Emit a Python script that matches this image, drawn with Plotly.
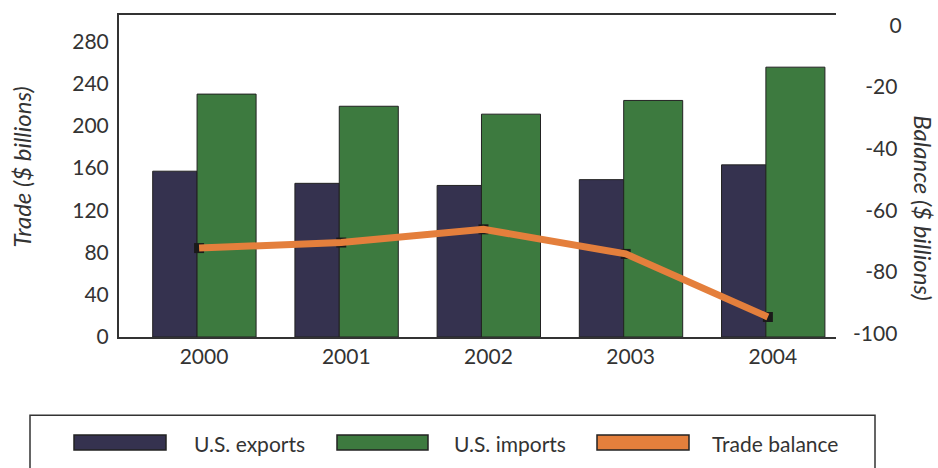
import plotly.graph_objects as go

# ---- data ----
years = ["2000", "2001", "2002", "2003", "2004"]
exports = [157, 145.5, 143.5, 149, 163]
imports = [230, 218.5, 211, 224, 255.5]
balance = [-72.3, -70.5, -66.2, -74.2, -94.7]
left_ticks = [0, 40, 80, 120, 160, 200, 240, 280]
right_ticks = [0, -20, -40, -60, -80, -100]

# ---- style ----
FONT = "Lato"
TXT = "#333333"
C_EXP = "#35324f"
C_IMP = "#3d7a3f"
C_BAL = "#e47f3c"

W, H = 938, 468
PL, PR, PT, PB = 119, 836, 12, 337  # plot area in pixels


def px_x(x):
    return (x - PL) / (PR - PL)


def px_y(y):
    return (PB - y) / (PB - PT)


def right_label(v):
    # hyphen-minus labels, padded with figure spaces so they line up on the right
    s = str(v)
    return "\u2007" * (4 - len(s)) + s


xi = list(range(len(years)))

fig = go.Figure()
fig.add_trace(go.Bar(
    x=xi, y=exports, name="U.S. exports", marker_color=C_EXP,
    marker_line=dict(color="#222222", width=1),
    width=0.312, offset=-0.361, showlegend=False,
))
fig.add_trace(go.Bar(
    x=xi, y=imports, name="U.S. imports", marker_color=C_IMP,
    marker_line=dict(color="#222222", width=1),
    width=0.415, offset=-0.049, showlegend=False,
))
bx = [i - 0.035 for i in xi]
fig.add_trace(go.Scatter(
    x=bx, y=balance, yaxis="y2", mode="markers",
    marker=dict(symbol="square", size=10, color="#1a1a1a"),
    showlegend=False, hoverinfo="skip",
))
fig.add_trace(go.Scatter(
    x=bx, y=balance, yaxis="y2", mode="lines", name="Trade balance",
    line=dict(color=C_BAL, width=7), showlegend=False,
))

fig.update_layout(
    width=W, height=H,
    margin=dict(l=PL, r=W - PR, t=PT, b=H - PB),
    paper_bgcolor="white", plot_bgcolor="white",
    font=dict(family=FONT, size=22, color=TXT),
    barmode="overlay",
    xaxis=dict(
        range=[-0.598, 4.444], tickvals=xi, ticktext=years,
        showline=True, linecolor="#333333", linewidth=2, mirror=True,
        showgrid=False, zeroline=False, ticks="",
        tickfont=dict(size=21),
    ),
    yaxis=dict(
        range=[0, 304.9], tickvals=left_ticks,
        showgrid=False, zeroline=False, showline=True,
        linecolor="#333333", linewidth=2, ticks="", ticklabelstandoff=4,
        tickfont=dict(size=21),
    ),
    yaxis2=dict(
        range=[-101.2, 3.44], tickvals=right_ticks,
        ticktext=[right_label(v) for v in right_ticks],
        overlaying="y", side="right",
        showgrid=False, zeroline=False, showline=False, ticks="",
        tickfont=dict(size=21), ticklabelstandoff=16,
    ),
)

ann = []
ann.append(dict(text="Trade ($ billions)", x=px_x(22), y=px_y(166), xref="paper", yref="paper",
                xanchor="center", yanchor="middle",
                textangle=-90, showarrow=False, font=dict(size=24, style="italic", color=TXT)))
ann.append(dict(text="Balance ($ billions)", x=px_x(924), y=px_y(207), xref="paper", yref="paper",
                xanchor="center", yanchor="middle",
                textangle=90, showarrow=False, font=dict(size=24, style="italic", color=TXT)))

# ---- legend drawn manually ----
shapes = [dict(type="rect", xref="paper", yref="paper",
               x0=px_x(30), x1=px_x(875), y0=px_y(416), y1=px_y(480),
               line=dict(color="#333333", width=1.5), fillcolor="rgba(0,0,0,0)")]
legend_items = [("U.S. exports", C_EXP, 74, 166, 192),
                ("U.S. imports", C_IMP, 337, 428, 452),
                ("Trade balance", C_BAL, 597, 689, 710)]
for label, col, s0, s1, tx in legend_items:
    shapes.append(dict(type="rect", xref="paper", yref="paper",
                       x0=px_x(s0), x1=px_x(s1), y0=px_y(451), y1=px_y(436),
                       fillcolor=col, line=dict(color="#222222", width=1.5)))
    ann.append(dict(text=label, x=px_x(tx), y=px_y(444), xref="paper", yref="paper",
                    xanchor="left", yanchor="middle", showarrow=False,
                    font=dict(size=21, color=TXT)))

fig.update_layout(annotations=ann, shapes=shapes)
fig.write_html("out.html")
